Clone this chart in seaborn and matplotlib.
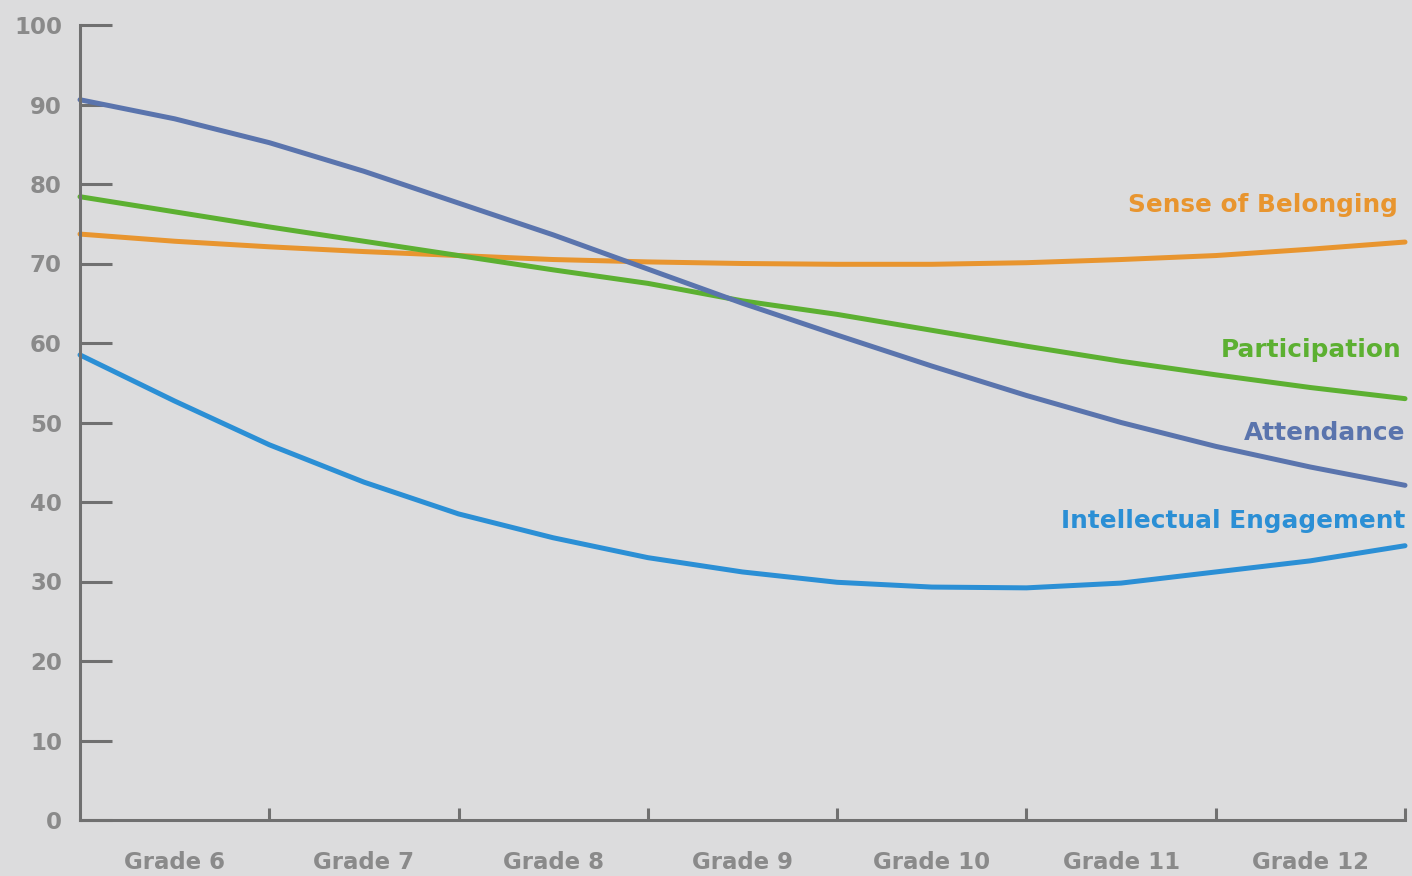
import numpy as np
import pandas as pd
import seaborn as sns
import matplotlib
matplotlib.use("Agg")
import matplotlib.pyplot as plt

# Position along the grade axis (0 = start of Grade 6, 7 = end of Grade 12)
positions = [0, 0.5, 1, 1.5, 2, 2.5, 3, 3.5, 4, 4.5, 5, 5.5, 6, 6.5, 7]

sense_of_belonging = [73.7, 72.8, 72.1, 71.5, 71.0, 70.5, 70.2, 70.0, 69.9, 69.9, 70.1, 70.5, 71.0, 71.8, 72.7]
participation = [78.4, 76.5, 74.6, 72.8, 71.0, 69.2, 67.5, 65.3, 63.6, 61.6, 59.6, 57.7, 56.0, 54.4, 53.0]
attendance = [90.6, 88.2, 85.2, 81.6, 77.6, 73.6, 69.3, 65.0, 61.0, 57.1, 53.4, 50.0, 47.0, 44.4, 42.1]
intellectual_engagement = [58.5, 52.7, 47.2, 42.5, 38.5, 35.5, 33.0, 31.2, 29.9, 29.3, 29.2, 29.8, 31.2, 32.6, 34.5]

series_names = ["Sense of Belonging", "Participation", "Attendance", "Intellectual Engagement"]
series_values = [sense_of_belonging, participation, attendance, intellectual_engagement]
series_colors = ["#e8952f", "#5cb031", "#5a74ad", "#2b8fd5"]
label_y = [77.4, 59.1, 48.7, 37.6]
label_right = [6.96, 6.98, 7.0, 7.0]

grade_labels = ["Grade 6", "Grade 7", "Grade 8", "Grade 9", "Grade 10", "Grade 11", "Grade 12"]
y_ticks = [0, 10, 20, 30, 40, 50, 60, 70, 80, 90, 100]

df = pd.DataFrame({
    "position": positions * len(series_names),
    "value": [v for vals in series_values for v in vals],
    "series": [name for name, vals in zip(series_names, series_values) for _ in vals],
})

bg = "#dcdcdd"
axis_color = "#707070"
tick_text = "#8a8a8a"

sns.set_style("white")
plt.rcParams["font.family"] = ["DejaVu Sans"]

fig = plt.figure(figsize=(14.12, 8.76), dpi=100, facecolor=bg)
ax = fig.add_axes([80 / 1412, 56 / 876, 1325 / 1412, 795 / 876])
ax.set_facecolor(bg)

sns.lineplot(data=df, x="position", y="value", hue="series", hue_order=series_names,
             palette=dict(zip(series_names, series_colors)), linewidth=3.6,
             legend=False, ax=ax, clip_on=False)
for line in ax.get_lines():
    line.set_solid_joinstyle("round")

for name, color, ly, lx in zip(series_names, series_colors, label_y, label_right):
    ax.text(lx, ly, name, color=color, ha="right", va="center",
            fontsize=17.8, fontweight="bold", family="DejaVu Sans")

ax.set_xlim(0, 7)
ax.set_ylim(0, 100)
ax.set_xlabel("")
ax.set_ylabel("")

# y axis: ticks drawn inward from the spine
ax.set_yticks(y_ticks)
ax.set_yticklabels([str(t) for t in y_ticks])
ax.tick_params(axis="y", left=True, direction="in", length=23, width=2.2, color=axis_color,
               labelcolor=tick_text, labelsize=16.5, pad=13)

# x axis: ticks at the boundaries between grades, labels centred in each grade
ax.set_xticks(range(1, 8))
ax.set_xticklabels([])
ax.set_xticks([i + 0.5 for i in range(7)], minor=True)
ax.set_xticklabels(grade_labels, minor=True)
ax.tick_params(axis="x", which="major", bottom=True, direction="in", length=9, width=2.2,
               color=axis_color)
ax.tick_params(axis="x", which="minor", bottom=True, length=0, labelcolor=tick_text,
               labelsize=16.5, pad=22)

for lab in ax.get_yticklabels() + ax.get_xticklabels(minor=True):
    lab.set_fontweight("bold")

for side in ["top", "right"]:
    ax.spines[side].set_visible(False)
for side in ["left", "bottom"]:
    ax.spines[side].set_color(axis_color)
    ax.spines[side].set_linewidth(2.2)

fig.savefig("out.png", dpi=100, facecolor=bg)
